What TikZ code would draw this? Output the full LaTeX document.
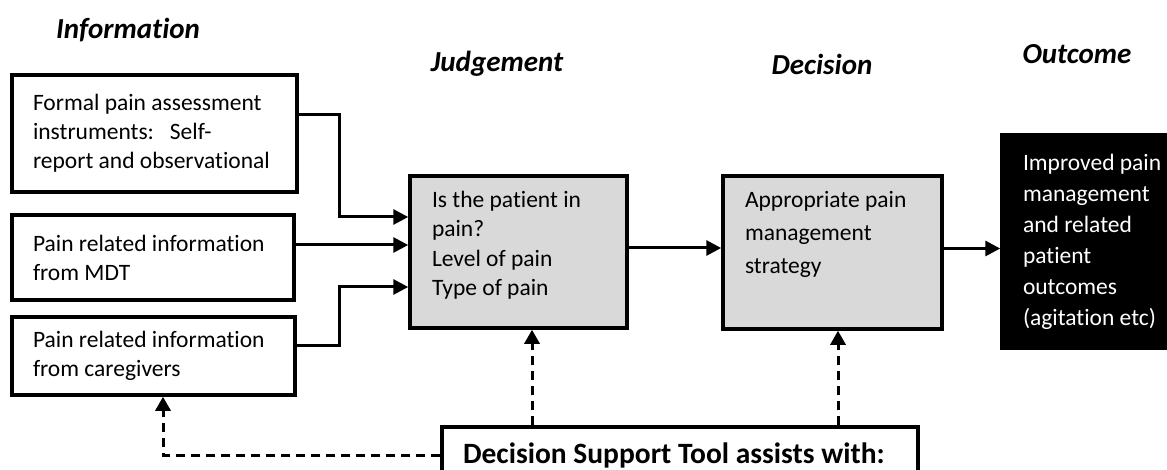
\documentclass[tikz,border=0pt]{standalone}
\usepackage{fontspec}
\setmainfont{Carlito}[Ligatures={NoCommon}]
\usetikzlibrary{arrows.meta}
\definecolor{boxgrey}{HTML}{D9D9D9}
\tikzset{
	plainspace/.style={execute at begin node={\spaceskip=0pt\xspaceskip=0pt}},
	heading/.style={font=\fontsize{29}{33}\selectfont\bfseries\itshape},
	infobox/.style={draw, line width=3.5pt, align=left, inner xsep=21pt, inner ysep=0pt,
			plainspace, font=\fontsize{23.5}{29}\selectfont},
	greybox/.style={draw, fill=boxgrey, line width=3.5pt, inner xsep=22pt, inner ysep=15pt},
	outbox/.style={draw, fill=black, text=white, line width=3.5pt, align=left, plainspace,
			inner xsep=21pt, inner ysep=0pt, font=\fontsize{23.5}{31}\selectfont},
	toolbox/.style={draw, fill=white, line width=3.5pt, align=left, inner xsep=21pt, plainspace,
			inner ysep=0pt, font=\fontsize{29.5}{34}\selectfont\bfseries},
	flow/.style={line width=3pt, -{Triangle[length=15pt,width=15pt]}},
	support/.style={line width=3pt, dash pattern=on 9pt off 6pt,
			-{Triangle[length=14pt,width=15pt]}}
}

\begin{document}
\begin{tikzpicture}[x=1pt, y=-1pt]
		\path[use as bounding box, clip] (0,0) rectangle (1167,470);

		\node[heading] (information) at (128,30) {Information};
		\node[heading] (judgement) at (497,64) {Judgement};
		\node[heading] (decision) at (822,64) {Decision};
		\node[heading] (outcome) at (1077,54) {Outcome};

		\node[infobox, text width=243pt, minimum height=117pt] (formal) at (154.5,133.5)
			{Formal pain assessment\\instruments:~~~Self-\\report and observational};
		\node[infobox, text width=240pt, minimum height=85pt] (mdt) at (153,257.5)
			{Pain related information\\from MDT};
		\node[infobox, text width=241pt, minimum height=78pt] (carer) at (153.5,356)
			{Pain related information\\from caregivers};

		\node[greybox, font=\fontsize{23.5}{29.5}\selectfont] (judge) at (518.5,252)
			{\parbox[t][122pt][t]{173pt}{\raggedright Is the patient in\\pain?\\Level of pain\\Type of pain}};
		\node[greybox, font=\fontsize{23.5}{33}\selectfont] (decide) at (832.5,252.5)
			{\parbox[t][123pt][t]{175pt}{\raggedright Appropriate pain\\management\\strategy}};
		\node[outbox, text width=122pt, minimum height=213pt] (result) at (1084,241.5)
			{\mbox{Improved pain}\\management\\and related\\patient\\outcomes\\\mbox{(agitation etc)}};

		\node[toolbox, text width=434pt, minimum height=56pt] (dst) at (680,455)
			{Decision Support Tool assists with:};

		\draw[flow] ([yshift=18.5pt]formal.east) -- ++(41,0) |- ([yshift=35pt]judge.west);
		\draw[flow] ([yshift=12.5pt]mdt.east) -- ([yshift=12.5pt]mdt.east -| judge.west);
		\draw[flow] ([yshift=11pt]carer.east) -- ++(43,0) |- ([yshift=-35pt]judge.west);
		\draw[flow] ([yshift=4pt]judge.east) -- ([yshift=4pt]judge.east -| decide.west);
		\draw[flow] ([yshift=4pt]decide.east) -- ([yshift=4pt]decide.east -| result.west);

		\draw[support] ([xshift=13.5pt]judge.south |- dst.north) -- ([xshift=13.5pt]judge.south);
		\draw[support] ([xshift=5.5pt]decide.south |- dst.north) -- ([xshift=5.5pt]decide.south);
		\draw[support] (dst.west) -| ([xshift=9.5pt]carer.south);
\end{tikzpicture}
\end{document}
